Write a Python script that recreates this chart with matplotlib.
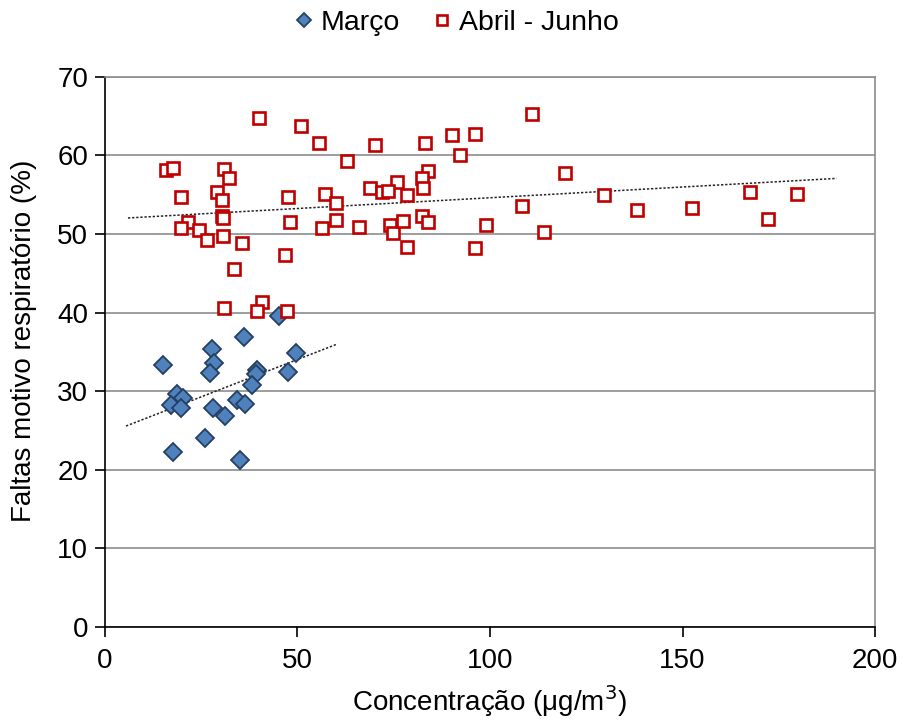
import matplotlib.pyplot as plt
import numpy as np

plt.rcParams["font.family"] = ["Liberation Sans", "DejaVu Sans"]

# Março (blue diamonds)
marco_x = [15.2, 27.7, 28.3, 27.3, 36.1, 45.2, 49.6, 47.6, 39.4, 39.2, 38.3,
           18.8, 20.3, 17.1, 19.9, 28.0, 34.2, 36.4, 31.2, 26.0, 17.7, 35.2]
marco_y = [33.3, 35.4, 33.6, 32.3, 36.9, 39.5, 34.8, 32.5, 32.7, 32.2, 30.8,
           29.7, 29.1, 28.3, 27.8, 27.8, 28.9, 28.4, 26.9, 24.1, 22.2, 21.3]

# Abril - Junho (red open squares)
abril_x = [39.9, 50.9, 16.0, 17.6, 30.9, 32.2, 19.9, 29.2, 30.3, 47.5, 30.5,
           30.8, 21.6, 19.9, 24.5, 26.6, 30.6, 35.6, 48.1, 46.9, 33.5, 30.9,
           40.9, 39.6, 47.4,
           55.6, 70.1, 83.1, 90.2, 96.1, 92.2, 62.8, 83.8, 82.4, 82.5, 75.8,
           68.8, 71.9, 73.4, 78.4, 57.1, 59.9, 59.9, 56.4, 66.1, 74.0, 74.9,
           77.5, 82.3, 83.8, 78.5, 96.1, 99.0,
           110.8, 119.5, 129.7, 108.4, 138.1, 114.1,
           152.4, 167.4, 172.3, 179.7]
abril_y = [64.7, 63.7, 58.1, 58.4, 58.3, 57.1, 54.7, 55.4, 54.3, 54.7, 52.3,
           52.0, 51.5, 50.8, 50.5, 49.2, 49.8, 48.8, 51.5, 47.3, 45.6, 40.6,
           41.4, 40.2, 40.2,
           61.6, 61.3, 61.6, 62.6, 62.7, 60.1, 59.3, 58.0, 57.1, 55.8, 56.6,
           55.8, 55.4, 55.5, 54.9, 55.1, 53.9, 51.8, 50.8, 50.9, 51.1, 50.1,
           51.6, 52.3, 51.5, 48.4, 48.2, 51.1,
           65.2, 57.8, 54.9, 53.6, 53.1, 50.3,
           53.3, 55.3, 51.9, 55.1]

# ranges covered by the (extended) linear trendlines
marco_trend_range = (5.5, 60)
abril_trend_range = (6, 190)

fig = plt.figure(figsize=(9.04, 7.24), dpi=100)
ax = fig.add_axes([0.116, 0.134, 0.852, 0.760])

for xs, ys, (x0, x1) in [(marco_x, marco_y, marco_trend_range),
                         (abril_x, abril_y, abril_trend_range)]:
    slope, intercept = np.polyfit(xs, ys, 1)
    tx = np.array([x0, x1])
    ax.plot(tx, slope * tx + intercept, color="#222222", lw=1.1,
            linestyle=(0, (1.5, 1.2)), zorder=3)

ax.plot(marco_x, marco_y, linestyle="none", marker="D", markersize=9.3,
        markerfacecolor="#4F81BD", markeredgecolor="#243F60",
        markeredgewidth=1.3, label="Março", zorder=4)
ax.plot(abril_x, abril_y, linestyle="none", marker="s", markersize=8.8,
        markerfacecolor="white", markeredgecolor="#C00000",
        markeredgewidth=1.9, label="Abril - Junho", zorder=4)

ax.set_xlim(0, 200)
ax.set_ylim(0, 70)
ax.set_xticks(range(0, 201, 50))
ax.set_yticks(range(0, 71, 10))
ax.yaxis.grid(True, color="#8c8c8c", lw=1.2)
ax.set_axisbelow(True)

for side in ["top", "right"]:
    ax.spines[side].set_color("#8c8c8c")
    ax.spines[side].set_linewidth(1.2)
for side in ["left", "bottom"]:
    ax.spines[side].set_color("black")
    ax.spines[side].set_linewidth(1.2)

ax.tick_params(axis="both", labelsize=20, direction="out", length=7,
               width=1.2)
ax.tick_params(axis="y", pad=5)
ax.tick_params(axis="x", pad=8)
ax.set_xlabel("Concentração (μg/m$^{3}$)", fontsize=20, labelpad=7)
ax.set_ylabel("Faltas motivo respiratório (%)", fontsize=20)
ax.yaxis.set_label_coords(-0.088, 0.52)

fig.legend(loc="center", bbox_to_anchor=(0.503, 0.968), ncol=2,
           frameon=False, fontsize=20.5, handletextpad=0.15,
           columnspacing=1.0, handlelength=0.9, markerscale=0.8)

fig.savefig("out.png", dpi=100)
